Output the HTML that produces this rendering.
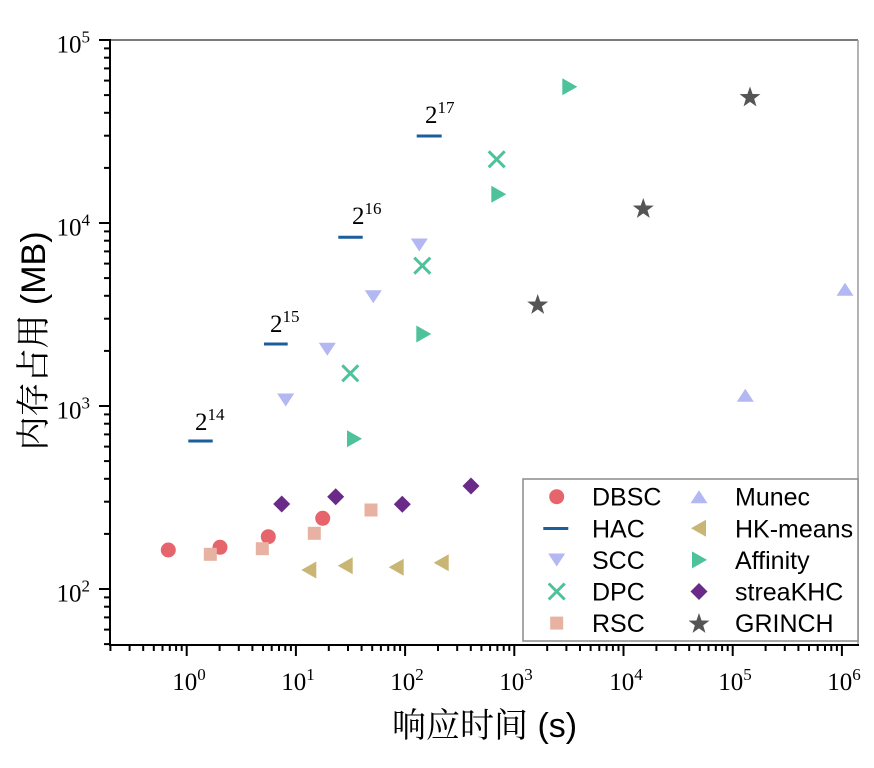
<!DOCTYPE html>
<html><head><meta charset="utf-8">
<style>
html,body{margin:0;padding:0;background:#fff;}
svg{display:block;}
.tk{font-family:"Liberation Serif",serif;font-size:25px;fill:#000;}
.lg{font-family:"Liberation Sans",sans-serif;font-size:25px;fill:#000;}
.ax{font-family:"Liberation Sans","Noto Serif CJK SC",serif;font-size:34px;fill:#000;}
</style></head>
<body>
<svg width="874" height="768" viewBox="0 0 874 768" xmlns="http://www.w3.org/2000/svg">
<rect width="874" height="768" fill="#fff"/>
<!-- frame -->
<line x1="110" y1="40" x2="858" y2="40" stroke="#7a7a7a" stroke-width="2"/>
<line x1="858" y1="40" x2="858" y2="645" stroke="#9a9a9a" stroke-width="1.5"/>
<line x1="110" y1="39" x2="110" y2="646" stroke="#000" stroke-width="2"/>
<line x1="109" y1="645" x2="859" y2="645" stroke="#000" stroke-width="2"/>

<!-- y ticks -->
<g stroke="#000" stroke-width="2">
<line x1="99" y1="40" x2="110" y2="40"/>
<line x1="99" y1="223" x2="110" y2="223"/>
<line x1="99" y1="406" x2="110" y2="406"/>
<line x1="99" y1="589" x2="110" y2="589"/>
</g>
<g stroke="#000" stroke-width="2">
<line x1="104" y1="644.1" x2="110" y2="644.1"/><line x1="104" y1="629.6" x2="110" y2="629.6"/><line x1="104" y1="617.4" x2="110" y2="617.4"/><line x1="104" y1="606.7" x2="110" y2="606.7"/><line x1="104" y1="597.4" x2="110" y2="597.4"/>
<line x1="104" y1="533.9" x2="110" y2="533.9"/><line x1="104" y1="501.7" x2="110" y2="501.7"/><line x1="104" y1="478.8" x2="110" y2="478.8"/><line x1="104" y1="461.1" x2="110" y2="461.1"/><line x1="104" y1="446.6" x2="110" y2="446.6"/><line x1="104" y1="434.4" x2="110" y2="434.4"/><line x1="104" y1="423.7" x2="110" y2="423.7"/><line x1="104" y1="414.4" x2="110" y2="414.4"/>
<line x1="104" y1="350.9" x2="110" y2="350.9"/><line x1="104" y1="318.7" x2="110" y2="318.7"/><line x1="104" y1="295.8" x2="110" y2="295.8"/><line x1="104" y1="278.1" x2="110" y2="278.1"/><line x1="104" y1="263.6" x2="110" y2="263.6"/><line x1="104" y1="251.4" x2="110" y2="251.4"/><line x1="104" y1="240.7" x2="110" y2="240.7"/><line x1="104" y1="231.4" x2="110" y2="231.4"/>
<line x1="104" y1="167.9" x2="110" y2="167.9"/><line x1="104" y1="135.7" x2="110" y2="135.7"/><line x1="104" y1="112.8" x2="110" y2="112.8"/><line x1="104" y1="95.1" x2="110" y2="95.1"/><line x1="104" y1="80.6" x2="110" y2="80.6"/><line x1="104" y1="68.4" x2="110" y2="68.4"/><line x1="104" y1="57.7" x2="110" y2="57.7"/><line x1="104" y1="48.4" x2="110" y2="48.4"/>
</g>

<!-- x ticks -->
<g stroke="#000" stroke-width="2">
<line x1="186.7" y1="645" x2="186.7" y2="656"/>
<line x1="295.9" y1="645" x2="295.9" y2="656"/>
<line x1="405.1" y1="645" x2="405.1" y2="656"/>
<line x1="514.3" y1="645" x2="514.3" y2="656"/>
<line x1="623.5" y1="645" x2="623.5" y2="656"/>
<line x1="732.7" y1="645" x2="732.7" y2="656"/>
<line x1="841.9" y1="645" x2="841.9" y2="656"/>
</g>
<g stroke="#000" stroke-width="2">
<line x1="110.4" y1="645" x2="110.4" y2="651"/><line x1="129.6" y1="645" x2="129.6" y2="651"/><line x1="143.2" y1="645" x2="143.2" y2="651"/><line x1="153.8" y1="645" x2="153.8" y2="651"/><line x1="162.5" y1="645" x2="162.5" y2="651"/><line x1="169.8" y1="645" x2="169.8" y2="651"/><line x1="176.1" y1="645" x2="176.1" y2="651"/><line x1="181.7" y1="645" x2="181.7" y2="651"/>
<line x1="219.6" y1="645" x2="219.6" y2="651"/><line x1="238.8" y1="645" x2="238.8" y2="651"/><line x1="252.4" y1="645" x2="252.4" y2="651"/><line x1="263.0" y1="645" x2="263.0" y2="651"/><line x1="271.7" y1="645" x2="271.7" y2="651"/><line x1="279.0" y1="645" x2="279.0" y2="651"/><line x1="285.3" y1="645" x2="285.3" y2="651"/><line x1="290.9" y1="645" x2="290.9" y2="651"/>
<line x1="328.8" y1="645" x2="328.8" y2="651"/><line x1="348.0" y1="645" x2="348.0" y2="651"/><line x1="361.6" y1="645" x2="361.6" y2="651"/><line x1="372.2" y1="645" x2="372.2" y2="651"/><line x1="380.9" y1="645" x2="380.9" y2="651"/><line x1="388.2" y1="645" x2="388.2" y2="651"/><line x1="394.5" y1="645" x2="394.5" y2="651"/><line x1="400.1" y1="645" x2="400.1" y2="651"/>
<line x1="438.0" y1="645" x2="438.0" y2="651"/><line x1="457.2" y1="645" x2="457.2" y2="651"/><line x1="470.8" y1="645" x2="470.8" y2="651"/><line x1="481.4" y1="645" x2="481.4" y2="651"/><line x1="490.1" y1="645" x2="490.1" y2="651"/><line x1="497.4" y1="645" x2="497.4" y2="651"/><line x1="503.7" y1="645" x2="503.7" y2="651"/><line x1="509.3" y1="645" x2="509.3" y2="651"/>
<line x1="547.2" y1="645" x2="547.2" y2="651"/><line x1="566.4" y1="645" x2="566.4" y2="651"/><line x1="580.0" y1="645" x2="580.0" y2="651"/><line x1="590.6" y1="645" x2="590.6" y2="651"/><line x1="599.3" y1="645" x2="599.3" y2="651"/><line x1="606.6" y1="645" x2="606.6" y2="651"/><line x1="612.9" y1="645" x2="612.9" y2="651"/><line x1="618.5" y1="645" x2="618.5" y2="651"/>
<line x1="656.4" y1="645" x2="656.4" y2="651"/><line x1="675.6" y1="645" x2="675.6" y2="651"/><line x1="689.2" y1="645" x2="689.2" y2="651"/><line x1="699.8" y1="645" x2="699.8" y2="651"/><line x1="708.5" y1="645" x2="708.5" y2="651"/><line x1="715.8" y1="645" x2="715.8" y2="651"/><line x1="722.1" y1="645" x2="722.1" y2="651"/><line x1="727.7" y1="645" x2="727.7" y2="651"/>
<line x1="765.6" y1="645" x2="765.6" y2="651"/><line x1="784.8" y1="645" x2="784.8" y2="651"/><line x1="798.4" y1="645" x2="798.4" y2="651"/><line x1="809.0" y1="645" x2="809.0" y2="651"/><line x1="817.7" y1="645" x2="817.7" y2="651"/><line x1="825.0" y1="645" x2="825.0" y2="651"/><line x1="831.3" y1="645" x2="831.3" y2="651"/><line x1="836.9" y1="645" x2="836.9" y2="651"/>
</g>

<!-- y tick labels -->
<text class="tk" x="90" y="52.5" text-anchor="end">10<tspan dy="-10" font-size="17">5</tspan></text>
<text class="tk" x="90" y="235.5" text-anchor="end">10<tspan dy="-10" font-size="17">4</tspan></text>
<text class="tk" x="90" y="418.5" text-anchor="end">10<tspan dy="-10" font-size="17">3</tspan></text>
<text class="tk" x="90" y="601.5" text-anchor="end">10<tspan dy="-10" font-size="17">2</tspan></text>

<!-- x tick labels -->
<text class="tk" x="189" y="690" text-anchor="middle">10<tspan dy="-10" font-size="17">0</tspan></text>
<text class="tk" x="298" y="690" text-anchor="middle">10<tspan dy="-10" font-size="17">1</tspan></text>
<text class="tk" x="407" y="690" text-anchor="middle">10<tspan dy="-10" font-size="17">2</tspan></text>
<text class="tk" x="516" y="690" text-anchor="middle">10<tspan dy="-10" font-size="17">3</tspan></text>
<text class="tk" x="626" y="690" text-anchor="middle">10<tspan dy="-10" font-size="17">4</tspan></text>
<text class="tk" x="735" y="690" text-anchor="middle">10<tspan dy="-10" font-size="17">5</tspan></text>
<text class="tk" x="844" y="690" text-anchor="middle">10<tspan dy="-10" font-size="17">6</tspan></text>

<!-- axis labels -->
<text class="ax" x="392" y="737">响应时间 (s)</text>
<text class="ax" transform="translate(45,341) rotate(-90)" text-anchor="middle">内存占用 (MB)</text>

<!-- HAC -->
<g stroke="#1C5D9C" stroke-width="3">
<line x1="188.3" y1="441" x2="212.7" y2="441"/>
<line x1="264" y1="344" x2="287.7" y2="344"/>
<line x1="338.3" y1="237.3" x2="362.7" y2="237.3"/>
<line x1="416.7" y1="136" x2="441.7" y2="136"/>
</g>
<text class="tk" x="195" y="430">2<tspan dy="-10" font-size="17">14</tspan></text>
<text class="tk" x="270" y="332">2<tspan dy="-10" font-size="17">15</tspan></text>
<text class="tk" x="352" y="224">2<tspan dy="-10" font-size="17">16</tspan></text>
<text class="tk" x="425" y="123">2<tspan dy="-10" font-size="17">17</tspan></text>

<!-- DBSC -->
<g fill="#E6646C">
<circle cx="168.3" cy="550" r="7.5"/>
<circle cx="220" cy="547.3" r="7.5"/>
<circle cx="268.3" cy="536.7" r="7.5"/>
<circle cx="322.7" cy="518.3" r="7.5"/>
</g>
<!-- RSC -->
<g fill="#E8B2A2">
<rect x="203.8" y="547.8" width="13" height="13"/>
<rect x="255.8" y="542.2" width="13" height="13"/>
<rect x="307.8" y="526.8" width="13" height="13"/>
<rect x="364.5" y="503.5" width="13" height="13"/>
</g>
<!-- HK-means -->
<g fill="#C9B674">
<polygon points="301.3,570 316.3,561.5 316.3,578.5"/>
<polygon points="337.7,565.7 352.7,557.2 352.7,574.2"/>
<polygon points="388.7,567.3 403.7,558.8 403.7,575.8"/>
<polygon points="433.7,562.7 448.7,554.2 448.7,571.2"/>
</g>
<!-- streaKHC -->
<g fill="#6A2A87">
<polygon points="281.7,495.5 290.2,504 281.7,512.5 273.2,504"/>
<polygon points="335.7,488.2 344.2,496.7 335.7,505.2 327.2,496.7"/>
<polygon points="402.3,495.8 410.8,504.3 402.3,512.8 393.8,504.3"/>
<polygon points="471,477.5 479.5,486 471,494.5 462.5,486"/>
</g>
<!-- SCC -->
<g fill="#B3B7F2">
<polygon points="410.8,238.5 427.8,238.5 419.3,251.5"/>
<polygon points="364.8,290.2 381.8,290.2 373.3,303.2"/>
<polygon points="318.8,342.8 335.8,342.8 327.3,355.8"/>
<polygon points="277.2,393.5 294.2,393.5 285.7,406.5"/>
</g>
<!-- Munec -->
<g fill="#B3B7F2">
<polygon points="836.5,295.8 853.5,295.8 845,282.8"/>
<polygon points="736.8,401.8 753.8,401.8 745.3,388.8"/>
</g>
<!-- DPC -->
<g stroke="#4DC29B" stroke-width="3" stroke-linecap="butt">
<path d="M488.7,151.3 L504.7,167.3 M504.7,151.3 L488.7,167.3"/>
<path d="M414.3,257.7 L430.3,273.7 M430.3,257.7 L414.3,273.7"/>
<path d="M342.3,365.3 L358.3,381.3 M358.3,365.3 L342.3,381.3"/>
</g>
<!-- Affinity -->
<g fill="#4DC29B">
<polygon points="562.3,78.2 562.3,95.2 577.3,86.7"/>
<polygon points="491.3,185.8 491.3,202.8 506.3,194.3"/>
<polygon points="416.3,325.5 416.3,342.5 431.3,334"/>
<polygon points="347,430.2 347,447.2 362,438.7"/>
</g>
<!-- GRINCH -->
<g fill="#555555">
<path transform="translate(750,97.5)" d="M0,-11 L2.59,-3.56 L10.46,-3.4 L4.18,1.36 L6.47,8.9 L0,4.4 L-6.47,8.9 L-4.18,1.36 L-10.46,-3.4 L-2.59,-3.56 Z"/>
<path transform="translate(643.3,209)" d="M0,-11 L2.59,-3.56 L10.46,-3.4 L4.18,1.36 L6.47,8.9 L0,4.4 L-6.47,8.9 L-4.18,1.36 L-10.46,-3.4 L-2.59,-3.56 Z"/>
<path transform="translate(537.7,305)" d="M0,-11 L2.59,-3.56 L10.46,-3.4 L4.18,1.36 L6.47,8.9 L0,4.4 L-6.47,8.9 L-4.18,1.36 L-10.46,-3.4 L-2.59,-3.56 Z"/>
</g>

<!-- legend -->
<rect x="523" y="479" width="335" height="162" fill="#fff" stroke="#8a8a8a" stroke-width="1.5"/>
<circle cx="556.7" cy="496.7" r="7.5" fill="#E6646C"/>
<line x1="543.3" y1="528.5" x2="568.3" y2="528.5" stroke="#1C5D9C" stroke-width="3"/>
<polygon points="548.2,553.5 565.2,553.5 556.7,566.5" fill="#B3B7F2"/>
<path d="M548.7,583.5 L564.7,599.5 M564.7,583.5 L548.7,599.5" stroke="#4DC29B" stroke-width="3"/>
<rect x="550.2" y="616.6" width="13" height="13" fill="#E8B2A2"/>
<polygon points="690.5,503.2 707.5,503.2 699,490.2" fill="#B3B7F2"/>
<polygon points="691,528.3 706,519.8 706,536.8" fill="#C9B674"/>
<polygon points="692,551.4 692,568.4 707,559.9" fill="#4DC29B"/>
<polygon points="699,583 707.5,591.5 699,600 690.5,591.5" fill="#6A2A87"/>
<path transform="translate(699,624)" fill="#555555" d="M0,-11 L2.59,-3.56 L10.46,-3.4 L4.18,1.36 L6.47,8.9 L0,4.4 L-6.47,8.9 L-4.18,1.36 L-10.46,-3.4 L-2.59,-3.56 Z"/>
<text class="lg" x="592" y="505.7">DBSC</text>
<text class="lg" x="592" y="537.3">HAC</text>
<text class="lg" x="592" y="568.9">SCC</text>
<text class="lg" x="592" y="600.5">DPC</text>
<text class="lg" x="592" y="632.1">RSC</text>
<text class="lg" x="735" y="505.7">Munec</text>
<text class="lg" x="735" y="537.3">HK-means</text>
<text class="lg" x="735" y="568.9">Affinity</text>
<text class="lg" x="735" y="600.5">streaKHC</text>
<text class="lg" x="735" y="632.1">GRINCH</text>
</svg>
</body></html>
